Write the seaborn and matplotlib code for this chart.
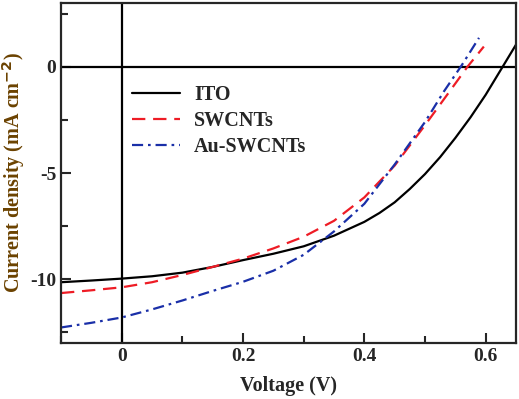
import numpy as np
import pandas as pd
import seaborn as sns
import matplotlib
matplotlib.use("Agg")
import matplotlib.pyplot as plt
from matplotlib.ticker import MultipleLocator

# J-V curves (V in volts, J in mA cm^-2)
ito_v = [-0.1, -0.05, 0.0, 0.05, 0.1, 0.15, 0.2, 0.25, 0.3, 0.35, 0.4, 0.425, 0.45, 0.475, 0.5, 0.525, 0.55, 0.575, 0.6, 0.628, 0.65]
ito_j = [-10.14, -10.06, -9.97, -9.86, -9.69, -9.42, -9.1, -8.8, -8.45, -7.95, -7.3, -6.88, -6.38, -5.75, -5.05, -4.25, -3.35, -2.38, -1.32, 0.0, 1.04]

sw_v = [-0.1, -0.05, 0.0, 0.05, 0.1, 0.15, 0.2, 0.25, 0.3, 0.35, 0.4, 0.45, 0.5, 0.537, 0.57, 0.597]
sw_j = [-10.65, -10.52, -10.38, -10.14, -9.8, -9.42, -9.03, -8.55, -8.0, -7.25, -6.15, -4.65, -2.75, -1.3, 0.0, 0.95]

au_v = [-0.1, -0.05, 0.0, 0.05, 0.1, 0.15, 0.2, 0.25, 0.3, 0.35, 0.4, 0.45, 0.5, 0.531, 0.561, 0.589]
au_j = [-12.27, -12.05, -11.8, -11.42, -11.0, -10.55, -10.12, -9.6, -8.85, -7.75, -6.45, -4.6, -2.6, -1.17, 0.09, 1.36]

labels = ["ITO", "SWCNTs", "Au-SWCNTs"]
colors = ["black", "#ee1c25", "#1a2fa8"]
dashes = [(None, None), (6, 3.5), (5, 2.2, 1.2, 2.2)]

df = pd.concat([
    pd.DataFrame({"V": ito_v, "J": ito_j, "sample": "ITO"}),
    pd.DataFrame({"V": sw_v, "J": sw_j, "sample": "SWCNTs"}),
    pd.DataFrame({"V": au_v, "J": au_j, "sample": "Au-SWCNTs"}),
])

sns.set_style("ticks")
plt.rcParams["font.family"] = ["Liberation Serif", "DejaVu Serif"]
plt.rcParams["font.weight"] = "bold"
plt.rcParams["axes.unicode_minus"] = False
plt.rcParams["mathtext.default"] = "bf"

fig = plt.figure(figsize=(5.19, 3.99), dpi=100)
ax = fig.add_axes([61 / 519, 56 / 399, 455 / 519, 340 / 399])

ax.axhline(0, color="black", lw=1.6, zorder=1)
ax.axvline(0, color="black", lw=1.6, zorder=1)

sns.lineplot(data=df, x="V", y="J", hue="sample", style="sample",
             hue_order=labels, style_order=labels,
             palette=dict(zip(labels, colors)),
             dashes=dict(zip(labels, dashes)),
             lw=1.6, sort=False, ax=ax)

ax.set_xlim(-0.1, 0.65)
ax.set_ylim(-13, 3)
ax.set_xticks([0, 0.2, 0.4, 0.6])
ax.set_xticklabels(["0", "0.2", "0.4", "0.6"])
ax.xaxis.set_minor_locator(MultipleLocator(0.1))
ax.yaxis.set_major_locator(MultipleLocator(5))
ax.yaxis.set_minor_locator(MultipleLocator(2.5))
ax.tick_params(which="both", direction="in", width=1.5, labelsize=14)
ax.tick_params(which="major", length=7)
ax.tick_params(which="minor", length=5)
for s in ax.spines.values():
    s.set_linewidth(1.6)

ax.set_xlabel("Voltage (V)", fontsize=14.5, fontweight="bold", labelpad=8)
ax.set_ylabel("Current density (mA cm$^{-2}$)", fontsize=14.5,
              fontweight="bold", color="#6b4200", labelpad=2)

leg = ax.legend(loc="upper left", bbox_to_anchor=(0.155, 0.76), frameon=False,
                fontsize=14.5, handlelength=2.4, labelspacing=0.32,
                handletextpad=0.7, borderpad=0, borderaxespad=0)
for t in leg.get_texts():
    t.set_fontweight("bold")

fig.savefig("out.png", dpi=100)
